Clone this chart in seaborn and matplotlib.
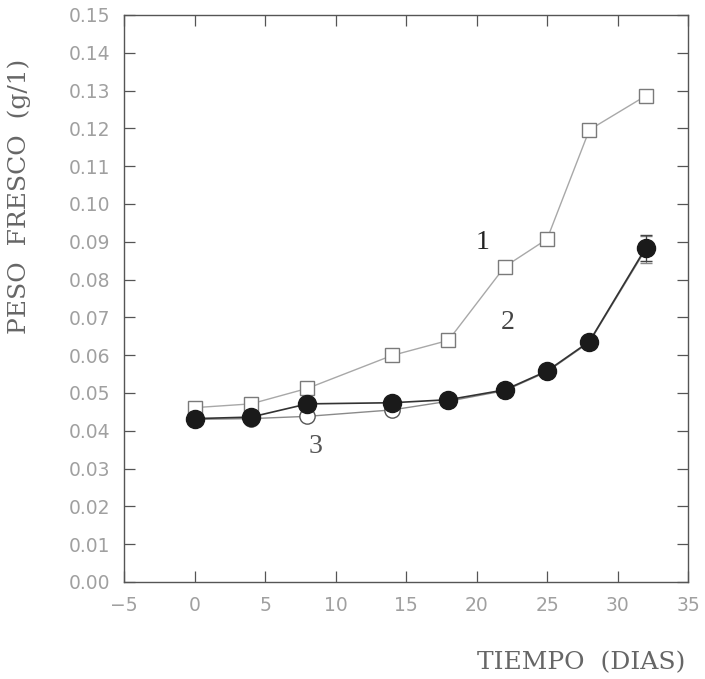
import matplotlib
matplotlib.use("Agg")
import numpy as np
import pandas as pd
import matplotlib.pyplot as plt
import seaborn as sns

# datos
dias = [0, 4, 8, 14, 18, 22, 25, 28, 32]
serie_1 = [0.0461, 0.0471, 0.0512, 0.0599, 0.0639, 0.0834, 0.0907, 0.1196, 0.1286]
error_1 = [0.0005, 0.0005, 0.0006, 0.0005, 0.0005, 0.0010, 0.0006, 0.0010, 0.0015]
serie_2 = [0.0432, 0.0436, 0.0471, 0.0474, 0.0482, 0.0508, 0.0558, 0.0636, 0.0884]
error_2 = [0.0004, 0.0004, 0.0005, 0.0004, 0.0004, 0.0004, 0.0004, 0.0005, 0.0035]
serie_3 = [0.0430, 0.0432, 0.0438, 0.0455, 0.0478, 0.0506, 0.0556, 0.0634, 0.0880]

x_ticks = list(range(-5, 36, 5))
y_ticks = [i / 100 for i in range(0, 16)]

sns.set_theme(style="ticks")
plt.rcParams["font.family"] = ["DejaVu Sans"]

fig = plt.figure(figsize=(7.05, 6.79), dpi=100)
ax = fig.add_axes([0.176, 0.143, 0.8, 0.835])

gris_tick = "#a0a0a0"

# serie 3: círculos abiertos (debajo)
ax.errorbar(dias, serie_3, yerr=error_2, fmt="none", ecolor="#888888", elinewidth=0.8, capsize=4)
sns.lineplot(x=dias, y=serie_3, ax=ax, color="#8a8a8a", linewidth=1.0,
             marker="o", markersize=11, markerfacecolor="white",
             markeredgecolor="#555555", markeredgewidth=1.0)

# serie 1: cuadrados abiertos
ax.errorbar(dias, serie_1, yerr=error_1, fmt="none", ecolor="#777777", elinewidth=0.8, capsize=4)
sns.lineplot(x=dias, y=serie_1, ax=ax, color="#a8a8a8", linewidth=1.0,
             marker="s", markersize=10, markerfacecolor="white",
             markeredgecolor="#7a7a7a", markeredgewidth=1.0)

# serie 2: círculos rellenos
ax.errorbar(dias, serie_2, yerr=error_2, fmt="none", ecolor="#444444", elinewidth=0.9, capsize=4)
sns.lineplot(x=dias, y=serie_2, ax=ax, color="#333333", linewidth=1.2,
             marker="o", markersize=13, markerfacecolor="#1a1a1a",
             markeredgecolor="#1a1a1a", markeredgewidth=1.0)

serif = ["Liberation Serif", "DejaVu Serif"]
ax.text(20.4, 0.0897, "1", fontsize=20, family=serif, color="#222222", ha="center", va="center")
ax.text(22.2, 0.0685, "2", fontsize=20, family=serif, color="#444444", ha="center", va="center")
ax.text(8.6, 0.0357, "3", fontsize=20, family=serif, color="#555555", ha="center", va="center")

ax.set_xlim(-5, 35)
ax.set_ylim(0, 0.15)
ax.set_xticks(x_ticks)
ax.set_yticks(y_ticks)
ax.set_yticklabels([f"{v:.2f}" for v in y_ticks])
ax.tick_params(direction="in", length=8, width=0.9, color="#555555",
               labelsize=13.5, labelcolor=gris_tick, pad=10,
               top=True, right=True)
ax.tick_params(axis="x", pad=10)

for s in ax.spines.values():
    s.set_color("#555555")
    s.set_linewidth(1.0)

serif_ancho = ["DejaVu Serif"]
ax.set_xlabel("TIEMPO  (DIAS)", fontsize=18, family=serif_ancho, color="#666666")
ax.set_ylabel("PESO  FRESCO  (g/1)", fontsize=18, family=serif_ancho, color="#666666")
ax.xaxis.set_label_coords(0.81, -0.123)
ax.yaxis.set_label_coords(-0.165, 0.68)

fig.savefig("out.png", dpi=100)
